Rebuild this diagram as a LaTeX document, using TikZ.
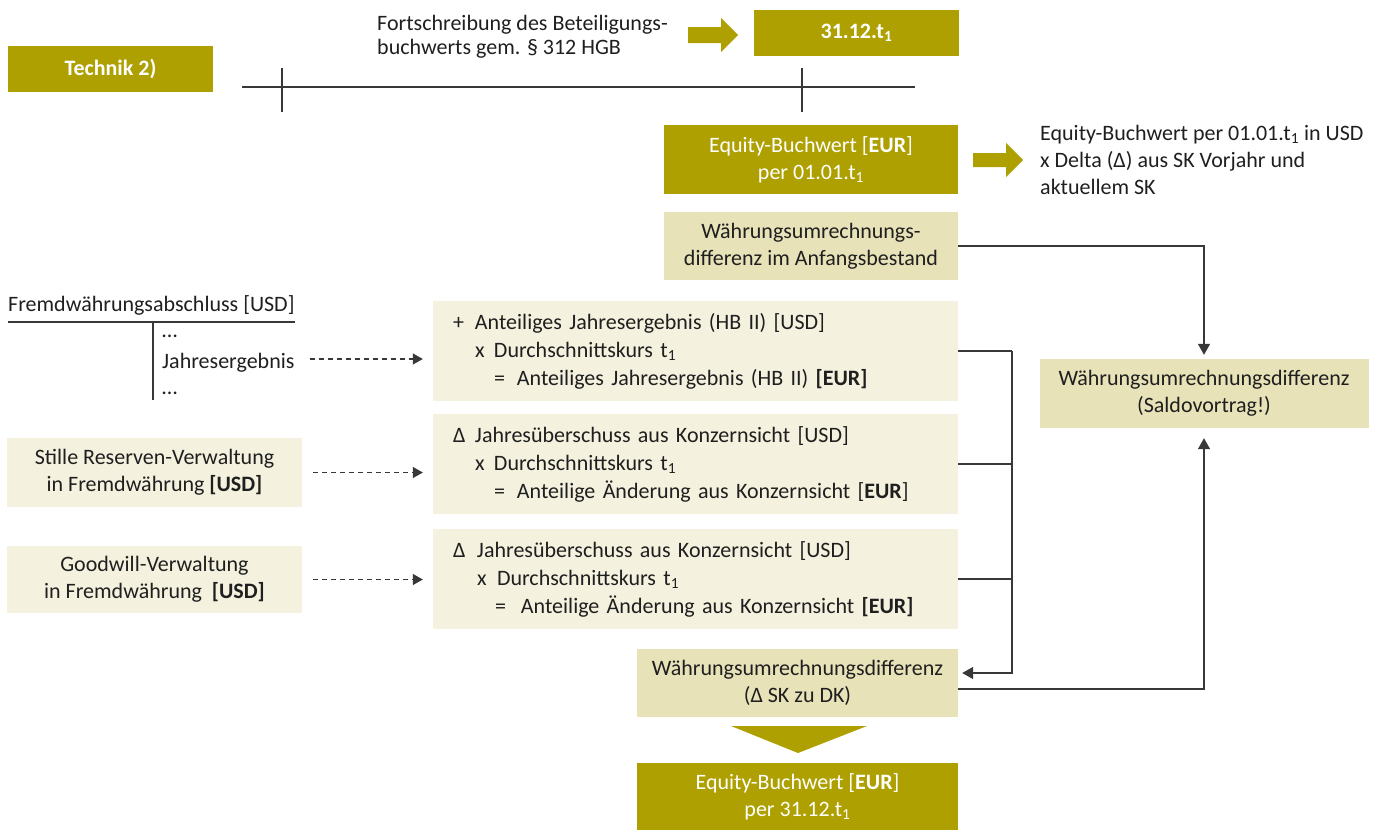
\documentclass[tikz,border=0pt]{standalone}
\usepackage{fontspec}
\setmainfont{Carlito}
\usetikzlibrary{arrows.meta}
\usetikzlibrary{positioning}
\definecolor{darkOlive}{RGB}{173,160,0}
\definecolor{midSand}{RGB}{232,226,185}
\definecolor{lightSand}{RGB}{244,241,222}
\colorlet{penColor}{black!78}
\colorlet{textColor}{black!88}
\newcommand{\boxfont}{\fontsize{22}{27}\selectfont}
\newcommand{\tsub}{t\textsubscript{1}}
\tikzset{
  oliveBox/.style={fill=darkOlive, text=white, align=center, inner sep=0pt},
  sandBox/.style={fill=midSand, text=textColor, align=center, inner sep=0pt},
  paleBox/.style={fill=lightSand, text=textColor, inner sep=0pt},
  plainText/.style={text=textColor, inner sep=0pt},
  link/.style={penColor, line width=1.3pt},
  tip/.style={-{Triangle[length=11pt,width=12pt]}},
  dashLink/.style={penColor, line width=1.2pt, dash pattern=on 5pt off 4pt, -{Triangle[length=10pt,width=11pt]}},
}

\begin{document}
\begin{tikzpicture}[x=1pt,y=-1pt,font=\boxfont]
\useasboundingbox (0,0) rectangle (1381,830);

\node[oliveBox, minimum width=205pt, minimum height=46pt] (technik) at (110.5,69) {\textbf{Technik 2)}};
\node[plainText, right, align=left] (fort) at (377,37) {Fortschreibung des Beteiligungs-\\[-3pt]buchwerts gem. § 312 HGB};
\fill[darkOlive] (688,27) -- ++(33,0) -- ++(0,-9) -- ++(17,17) -- ++(-17,17) -- ++(0,-9) -- ++(-33,0) -- cycle;
\node[oliveBox, minimum width=205pt, minimum height=46pt] (stichtag) at (856.5,33) {\textbf{31.12.\tsub}};

\draw[link] (242,87) -- (915,87);
\draw[link] (282,68) -- (282,112);
\draw[link] (802,68) -- (802,112);

\node[oliveBox, minimum width=294pt, minimum height=69pt] (eqStart) at (811,159.5) {Equity-Buchwert [\textbf{EUR}]\\per 01.01.\tsub};
\fill[darkOlive] (973,153) -- ++(33,0) -- ++(0,-10) -- ++(17,17) -- ++(-17,17) -- ++(0,-10) -- ++(-33,0) -- cycle;
\node[plainText, right, align=left] (eqNote) at (1040,160) {Equity-Buchwert per 01.01.\tsub{} in USD\\x Delta (Δ) aus SK Vorjahr und\\aktuellem SK};

\node[sandBox, minimum width=294pt, minimum height=68pt] (wudStart) at (811,246) {Währungsumrechnungs-\\differenz im Anfangsbestand};
\node[sandBox, minimum width=329pt, minimum height=69pt] (saldo) at (1204,393.5) {Währungsumrechnungsdifferenz\\(Saldovortrag!)};

% Fremdwaehrungsabschluss als T-Konto
\node[plainText, right] (fwa) at (8,305) {Fremdwährungsabschluss [USD]};
\draw[link] (fwa.west |- 0,322) -- (fwa.east |- 0,322);
\draw[link] (153,322) -- (153,400);
\node[plainText, right] (dotsA) at (162,336) {…};
\node[plainText, right] (jahr) at (162,363) {Jahresergebnis};
\node[plainText, right] (dotsB) at (162,393) {…};

\node[paleBox, minimum width=295pt, minimum height=69pt, align=center] (stille) at (154.5,472.5) {Stille Reserven-Verwaltung\\in Fremdwährung \textbf{[USD]}};
\node[paleBox, minimum width=295pt, minimum height=67pt, align=center] (goodwill) at (154.5,579.5) {Goodwill-Verwaltung\\in Fremdwährung \ \textbf{[USD]}};

\node[paleBox, text width=485pt, inner xsep=20pt, minimum height=100pt, align=left] (resA) at (695.5,351) {\makebox[22pt][l]{+}Anteiliges Jahresergebnis (HB II) [USD]\\[1pt]
\hspace*{22pt}\makebox[19pt][l]{x}Durchschnittskurs \tsub\\[1pt]
\hspace*{41pt}\makebox[23pt][l]{=}Anteiliges Jahresergebnis (HB II) \textbf{[EUR]}};
\node[paleBox, text width=485pt, inner xsep=20pt, minimum height=100pt, align=left] (resB) at (695.5,464) {\makebox[22pt][l]{Δ}Jahresüberschuss aus Konzernsicht [USD]\\[1pt]
\hspace*{22pt}\makebox[19pt][l]{x}Durchschnittskurs \tsub\\[1pt]
\hspace*{41pt}\makebox[23pt][l]{=}Anteilige Änderung aus Konzernsicht [\textbf{EUR}]};
\node[paleBox, text width=485pt, inner xsep=20pt, minimum height=100pt, align=left] (resC) at (695.5,579) {\makebox[24pt][l]{Δ}Jahresüberschuss aus Konzernsicht [USD]\\[1pt]
\hspace*{24pt}\makebox[20pt][l]{x}Durchschnittskurs \tsub\\[1pt]
\hspace*{42pt}\makebox[26pt][l]{=}Anteilige Änderung aus Konzernsicht \textbf{[EUR]}};

\draw[dashLink, shorten <=15pt, shorten >=10pt] ([yshift=4pt]jahr.east) -- ([yshift=4pt]jahr.east -| resA.west);
\draw[dashLink, shorten <=11pt, shorten >=10pt] (stille.east) -- (stille.east -| resB.west);
\draw[dashLink, shorten <=11pt, shorten >=10pt] (goodwill.east) -- (goodwill.east -| resC.west);

\node[sandBox, minimum width=321pt, minimum height=68pt] (wudYear) at (797.5,683) {Währungsumrechnungsdifferenz\\(Δ SK zu DK)};
\coordinate (bus) at (1012,0);
\draw[link] (resA.east) -- (resA.east -| bus);
\draw[link] (resB.east) -- (resB.east -| bus);
\draw[link] (resC.east) -- (resC.east -| bus);
\draw[link, tip, shorten >=4pt] (resA.east -| bus) |- ([yshift=10pt]wudYear.east);
\draw[link, tip, shorten >=4pt] (wudStart.east) -| (saldo.north);
\draw[link, tip, shorten >=10pt] ([yshift=-6pt]wudYear.east) -| (saldo.south);

\fill[darkOlive] (731,726) -- (867,726) -- (798,753) -- cycle;
\node[oliveBox, minimum width=321pt, minimum height=67pt] (eqEnd) at (797.5,796.5) {Equity-Buchwert [\textbf{EUR}]\\per 31.12.\tsub};
\end{tikzpicture}
\end{document}
